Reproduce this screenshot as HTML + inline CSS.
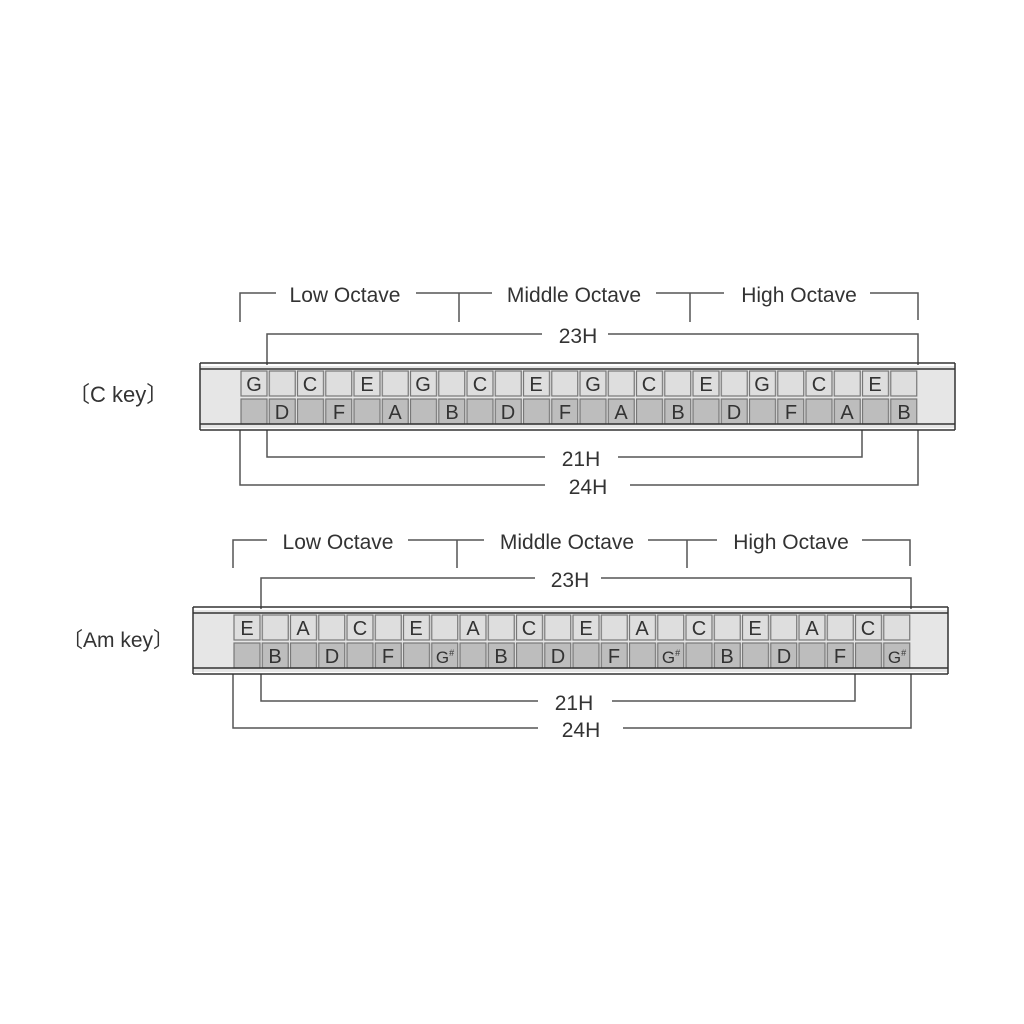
<!DOCTYPE html>
<html><head><style>body{margin:0;background:#fff}svg{display:block}text{font-family:"Liberation Sans",sans-serif;fill:#333}</style></head>
<body>
<svg width="1024" height="1024" viewBox="0 0 1024 1024" xmlns="http://www.w3.org/2000/svg">
<defs>
<pattern id="pt" x="240" y="370" width="28.25" height="27" patternUnits="userSpaceOnUse"><rect x="1" y="1" width="26" height="25" fill="#dedede" stroke="#777" stroke-width="1.2"/></pattern>
<pattern id="pb" x="240" y="398" width="28.25" height="27" patternUnits="userSpaceOnUse"><rect x="1" y="1" width="26" height="25" fill="#bdbdbd" stroke="#777" stroke-width="1.2"/></pattern>
<pattern id="qt" x="233" y="614" width="28.25" height="27" patternUnits="userSpaceOnUse"><rect x="1" y="1" width="26" height="25" fill="#dedede" stroke="#777" stroke-width="1.2"/></pattern>
<pattern id="qb" x="233" y="642" width="28.25" height="27" patternUnits="userSpaceOnUse"><rect x="1" y="1" width="26" height="25" fill="#bdbdbd" stroke="#777" stroke-width="1.2"/></pattern>
</defs>
<g stroke="#555" stroke-width="1.5" fill="none">
<!-- C key brackets -->
<path d="M240 322V293H276M416 293H459V322M459 293H492M656 293H690V322M690 293H724M870 293H918V320"/>
<path d="M267 365V334H542M608 334H918V365"/>
<path d="M267 430V457H545M618 457H862V430"/>
<path d="M240 430V485H545M630 485H918V430"/>
<!-- Am brackets -->
<path d="M233 568V540H267M408 540H457V568M457 540H484M648 540H687V568M687 540H717M862 540H910V566"/>
<path d="M261 609V578H535M601 578H911V609"/>
<path d="M261 674V701H538M612 701H855V674"/>
<path d="M233 674V728H538M623 728H911V674"/>
</g>
<!-- C key body -->
<rect x="200" y="366" width="755" height="62" fill="#e6e6e6"/>
<rect x="240" y="370" width="678" height="27" fill="url(#pt)"/>
<rect x="240" y="398" width="678" height="27" fill="url(#pb)"/>
<g stroke="#333" stroke-width="1.5"><line x1="200" y1="363" x2="955" y2="363"/><line x1="200" y1="369" x2="955" y2="369"/><line x1="200" y1="424" x2="955" y2="424"/><line x1="200" y1="430" x2="955" y2="430"/><line x1="200" y1="363" x2="200" y2="430"/><line x1="955" y1="363" x2="955" y2="430"/></g>
<!-- Am body -->
<rect x="193" y="610" width="755" height="62" fill="#e6e6e6"/>
<rect x="233" y="614" width="678" height="27" fill="url(#qt)"/>
<rect x="233" y="642" width="678" height="27" fill="url(#qb)"/>
<g stroke="#333" stroke-width="1.5"><line x1="193" y1="607" x2="948" y2="607"/><line x1="193" y1="613" x2="948" y2="613"/><line x1="193" y1="668" x2="948" y2="668"/><line x1="193" y1="674" x2="948" y2="674"/><line x1="193" y1="607" x2="193" y2="674"/><line x1="948" y1="607" x2="948" y2="674"/></g>

<g font-size="21" text-anchor="middle">
<text x="345" y="302">Low Octave</text>
<text x="574" y="302">Middle Octave</text>
<text x="799" y="302">High Octave</text>
<text x="578" y="343">23H</text>
<text x="581" y="466">21H</text>
<text x="588" y="494">24H</text>
<text x="338" y="549">Low Octave</text>
<text x="567" y="549">Middle Octave</text>
<text x="791" y="549">High Octave</text>
<text x="570" y="587">23H</text>
<text x="574" y="710">21H</text>
<text x="581" y="737">24H</text>
</g>
<text x="68" y="402" font-size="22">〔C key〕</text>
<text x="62" y="647" font-size="21">〔Am key〕</text>

<g font-size="20" text-anchor="middle">
<text x="254" y="391">G</text><text x="310" y="391">C</text><text x="367" y="391">E</text><text x="423" y="391">G</text><text x="480" y="391">C</text><text x="536" y="391">E</text><text x="593" y="391">G</text><text x="649" y="391">C</text><text x="706" y="391">E</text><text x="762" y="391">G</text><text x="819" y="391">C</text><text x="875" y="391">E</text>
<text x="282" y="419">D</text><text x="339" y="419">F</text><text x="395" y="419">A</text><text x="452" y="419">B</text><text x="508" y="419">D</text><text x="565" y="419">F</text><text x="621" y="419">A</text><text x="678" y="419">B</text><text x="734" y="419">D</text><text x="791" y="419">F</text><text x="847" y="419">A</text><text x="904" y="419">B</text>
<text x="247" y="635">E</text><text x="303" y="635">A</text><text x="360" y="635">C</text><text x="416" y="635">E</text><text x="473" y="635">A</text><text x="529" y="635">C</text><text x="586" y="635">E</text><text x="642" y="635">A</text><text x="699" y="635">C</text><text x="755" y="635">E</text><text x="812" y="635">A</text><text x="868" y="635">C</text>
<text x="275" y="663">B</text><text x="332" y="663">D</text><text x="388" y="663">F</text><text x="445" y="663" font-size="17">G<tspan font-size="9" dy="-7">#</tspan></text><text x="501" y="663">B</text><text x="558" y="663">D</text><text x="614" y="663">F</text><text x="671" y="663" font-size="17">G<tspan font-size="9" dy="-7">#</tspan></text><text x="727" y="663">B</text><text x="784" y="663">D</text><text x="840" y="663">F</text><text x="897" y="663" font-size="17">G<tspan font-size="9" dy="-7">#</tspan></text>
</g>
</svg>
</body></html>
